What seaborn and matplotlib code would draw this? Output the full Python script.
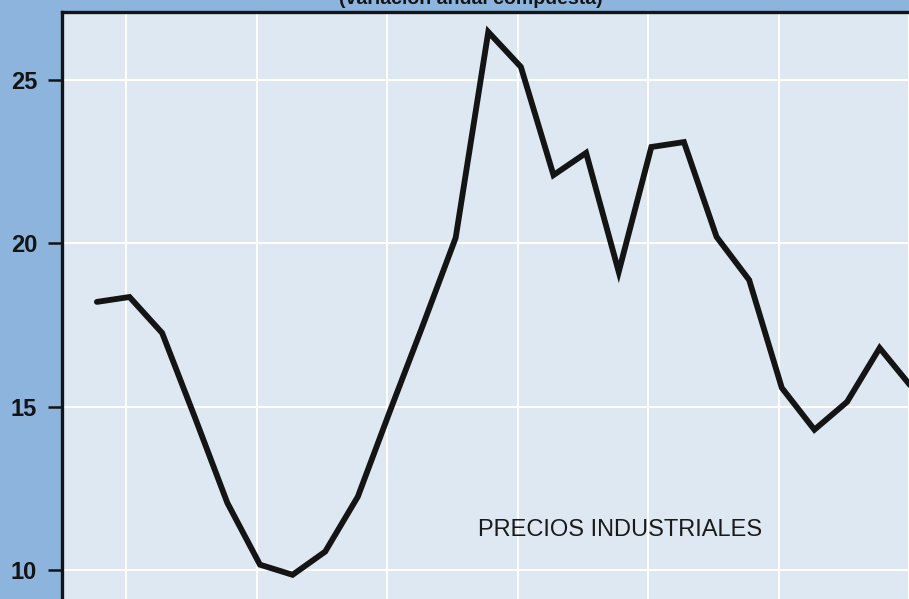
import matplotlib
matplotlib.use("Agg")
import matplotlib.pyplot as plt
import seaborn as sns
import pandas as pd

# Quarterly series, compound annual rate of change
periodo = list(range(26))
precios_industriales = [18.21, 18.36, 17.26, 14.69, 12.06, 10.17, 9.86, 10.57,
                        12.25, 14.91, 17.51, 20.17, 26.47, 25.40, 22.09, 22.77,
                        19.13, 22.95, 23.10, 20.20, 18.88, 15.58, 14.30, 15.15,
                        16.80, 15.58]
y_ticks = [10, 15, 20, 25]
year_marks = [0.9, 4.9, 8.9, 12.9, 16.9, 20.9, 24.9]

titulo = "(variación anual compuesta)"
serie = "PRECIOS INDUSTRIALES"

df = pd.DataFrame({"periodo": periodo, "valor": precios_industriales})

sns.set_theme(style="whitegrid", rc={
    "axes.facecolor": "#dee8f2",
    "figure.facecolor": "#8cb4dc",
    "grid.color": "white",
    "grid.linewidth": 1.5,
})
plt.rcParams["font.family"] = ["Liberation Sans", "DejaVu Sans"]

W, H = 909, 599
fig = plt.figure(figsize=(W / 100, H / 100), dpi=100)
ax = fig.add_axes([62 / W, 0, (W - 62) / W, (H - 12) / H])

sns.lineplot(data=df, x="periodo", y="valor", ax=ax, color="#141414",
             linewidth=4.2, solid_joinstyle="miter")

ax.set_xlim(-1.07, 24.83)
ax.set_ylim(9.12, 27.08)
ax.set_yticks(y_ticks)
ax.set_yticklabels([str(t) for t in y_ticks], fontsize=17, fontweight="bold",
                   color="#141414")
ax.set_xticks(year_marks)
ax.set_xticklabels([])
ax.tick_params(axis="x", length=0)
ax.tick_params(axis="y", length=10, width=1.8, color="#141414", pad=8,
               left=True, direction="out")
ax.set_xlabel("")
ax.set_ylabel("")
ax.grid(True, color="white", linewidth=1.5)

for side in ("right", "bottom"):
    ax.spines[side].set_visible(False)
for side in ("left", "top"):
    ax.spines[side].set_visible(True)
    ax.spines[side].set_color("#141414")
    ax.spines[side].set_linewidth(2.4)

# series label placed in figure pixel coordinates
fig.text(478 / W, 1 - 530 / H, serie, fontsize=17, color="#1a1a1a",
         ha="left", va="center")

fig.text(471 / W, 1 - 4 / H, titulo, ha="center", va="baseline",
         fontsize=14, fontweight="bold", color="#141414")

fig.savefig("out.png", dpi=100, facecolor=fig.get_facecolor())
